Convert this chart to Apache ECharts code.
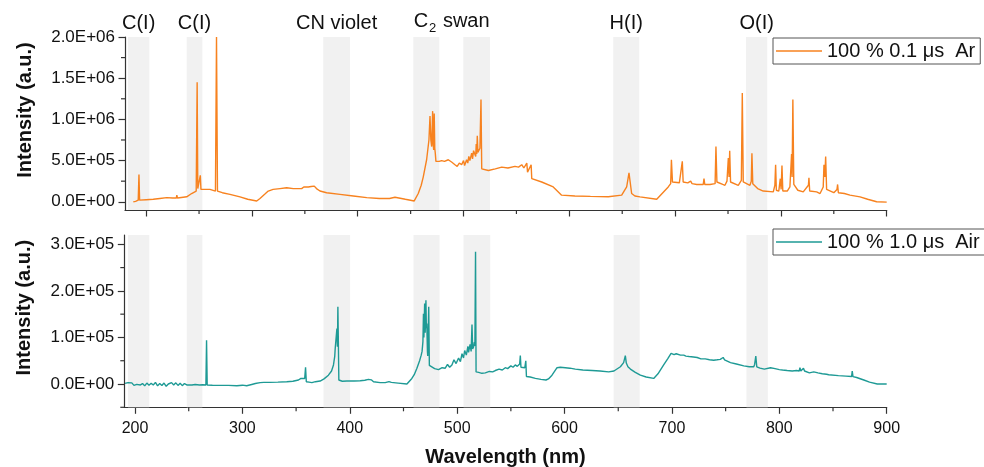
<!DOCTYPE html>
<html><head><meta charset="utf-8">
<script src="https://cdn.jsdelivr.net/npm/echarts@6/dist/echarts.min.js"></script>
<style>html,body{margin:0;padding:0;background:#fff}#c{width:984px;height:467px}</style>
</head><body><div id="c"></div><script>
// ---- data ----
const topWavelength = [187.9,190,192.5,193.2,193.8,200,206.7,213,219.4,225,228.5,229,229.6,235,238.3,243,247.3,248.2,248.8,250.5,251.2,251.8,255,260.3,265.5,266.5,267.4,272,279.2,288.7,296,304.5,307.6,312,315.4,320,326.5,332.8,339.1,347,349,350.5,353.3,356,358.9,361,364.3,370.6,383.2,395.8,408.5,420.4,430,435.2,437,445,453.4,457.2,460,461.9,465.1,467.3,468.3,469.1,469.9,470.4,470.8,471.3,471.8,472.3,472.8,473.3,473.9,474.9,477,479.3,482,485.6,489,491.9,494,496,498.2,500,501,502.9,504,505,506,507.7,508.5,509.5,510.8,511.5,512,512.5,513,513.6,514.6,515.5,516.5,517.2,517.8,523.5,530,536.1,542,548.6,552,555,557,559.8,560.5,562,563.9,564.5,573.9,584.8,592.7,605.3,620,636.8,649.5,654.2,656.4,658.9,662,666.8,682.6,693.5,695.8,696.5,697.5,704,706.8,707.6,712,714.7,716,720.4,726.6,727.3,728,733,737.8,738.6,739.5,745,747.1,749,750.3,751,751.6,752.4,759.7,762.6,763.5,764.4,770.7,772,772.6,773.4,778,783.3,792.8,794.3,795,795.7,798,799.4,800.2,801,801.8,806,808.5,810.1,810.6,811.3,812.2,816,821.1,826,826.5,827.2,833.8,834.5,837,840,840.7,841.5,842.3,843.2,850,853,853.6,854.3,860,865.3,866,866.8,874.8,882,890.5,900];
const topIntensity = [0,5e3,2e4,3.3e5,2e4,2.5e4,3e4,4e4,5e4,4.5e4,4.5e4,8e4,4.5e4,5.5e4,6e4,1e5,1.3e5,1.45e6,1.6e5,1.5e5,3.2e5,1.5e5,1.5e5,1.5e5,1.3e5,2.0e6,1.3e5,1.1e5,9e4,6e4,3e4,1e4,4e4,9e4,1.3e5,1.5e5,1.6e5,1.7e5,1.6e5,1.6e5,1.8e5,1.9e5,1.8e5,1.85e5,1.9e5,1.6e5,1.3e5,1.1e5,9e4,7e4,5e4,4e4,4e4,5.5e4,4.5e4,3e4,1e4,1e5,2e5,3e5,5.1e5,7.5e5,1.04e6,7.5e5,6.7e5,9e5,1.1e6,7e5,6.3e5,1.07e6,6.5e5,5.9e5,4.9e5,4.7e5,4.9e5,5e5,4.9e5,5.1e5,4.8e5,4.5e5,4.3e5,4.7e5,4.5e5,5e5,4.4e5,5.1e5,4.7e5,5.5e5,5e5,5.9e5,5.2e5,6.2e5,6.3e5,5.5e5,7e5,5.8e5,8e5,6e5,6.1e5,6.5e5,1.24e6,4e5,3.8e5,3.8e5,4e5,4.2e5,4.1e5,4.3e5,4.2e5,4.5e5,4.1e5,4.7e5,3.6e5,3.4e5,4.5e5,2.8e5,2.4e5,1.8e5,8e4,7e4,6.5e4,6e4,8e4,1.8e5,3.5e5,1e5,7e4,6e4,3e4,1.8e5,2.2e5,5.1e5,2.4e5,2.3e5,4.9e5,2.4e5,2.3e5,2.5e5,2.2e5,2.1e5,2.1e5,2.8e5,2.1e5,2.1e5,2.2e5,6.7e5,2.4e5,2.1e5,2e5,2.5e5,5.3e5,3e5,6.2e5,2.4e5,2e5,2.6e5,1.32e6,2.4e5,2e5,2.5e5,5.9e5,2.2e5,1.6e5,1.3e5,1.2e5,2e5,4.5e5,1.4e5,1.3e5,2.8e5,1.5e5,4.4e5,1.3e5,1.3e5,1.8e5,5.8e5,3e5,1.24e6,2.1e5,1.4e5,1.2e5,2e5,2.9e5,1.3e5,1.2e5,1e5,1e5,1.8e5,4.5e5,3e5,5.5e5,1.5e5,1.1e5,1.5e5,2.1e5,1.1e5,1e5,8e4,1e5,8e4,6e4,3e4,0,-5e3];
const bottomWavelength = [190.7,192,193.5,195,197,199,201.6,203,205,207,209,211,213,215,217,219,221,223,225,227,229,231,232.6,234,236,238,240,242,244,246,248.2,250,253,256,260,263,266,266.6,267.2,272,279.2,287,294.8,300,304,308.7,312,316.5,320,325.8,333,341.3,347,352.2,354.5,356.2,358,358.8,359.5,362,364.7,368,372.4,376,380.1,383,384.8,386,386.4,387.5,388,388.5,388.9,389.4,389.8,393,397.3,404,409.7,414,417.4,420,422.1,428.3,433,436.5,437.6,438.7,445,453.2,457.8,460,462.5,465,466.5,467.3,468.1,468.6,469,469.7,470.2,470.9,471.3,471.7,472.3,472.6,473.5,474.1,475.9,479,482.6,486,488.9,491,493,495.1,497,499,501.3,503,504.5,505.9,507,508.5,510,510.6,512,513,513.8,514.4,515.3,516,516.5,517.1,517.6,520,523,526.2,530,533,535.5,539,542,544.8,547,550,552,554.1,556,558.2,558.8,559.4,561,563,563.9,564.5,568,572.8,578,582.7,585,588.3,593,596,600.7,605,610,617,625.6,633,641.1,646,652,655,656.6,657.5,659,661.3,665.9,670.6,676,683,687,692.3,696,699.2,702,704,707.9,711,713,716,720,723.5,727,731,735,738.9,742,745,747.7,749,754.5,760,766.9,772,776.2,777,778.1,779,782,786,791.8,796,800,803,807.3,812,816,818.5,819.2,820,821.3,822.5,823.5,828,832.1,836,840,844,845,846,847.7,855,862,867.3,867.9,868.6,872,878.7,884,891.2,900];
const bottomIntensity = [1.4e3,-2e3,3e3,-1e3,2.5e3,-3e3,-700,3e3,-2e3,1e3,-4e3,2e3,-2.5e3,1.5e3,-2e3,3.5e3,-4e3,1e3,-3e3,2e3,-5e3,0,-4e3,3e3,-2e3,2.5e3,-3e3,1.5e3,-3.5e3,1e3,-2e3,0,-2e3,-1e3,-2e3,-1.5e3,-2e3,9.4e4,-2e3,-2.5e3,-3e3,-3e3,-3.6e3,-2.5e3,-3.8e3,-1e3,1e3,2.9e3,3.5e3,3.6e3,4e3,5e3,6e3,8.6e3,1.2e4,1.36e4,1.2e4,3.57e4,5e3,4e3,2.9e3,5e3,6.4e3,1.1e4,1.9e4,2.8e4,4.1e4,6e4,7.6e4,8e4,1.19e5,8e4,1.66e5,8e4,8.6e3,6e3,6.4e3,6.5e3,7e3,8e3,1e4,9e3,5e3,3e3,3e3,5e3,6e3,3.5e3,2e3,0,1.2e4,2e4,3.4e4,5e4,6.2e4,7e4,9.1e4,1.51e5,1e5,1.73e5,1.1e5,1.8e5,1.2e5,1.3e5,7e4,6e4,1.66e5,4e4,3.7e4,3.3e4,3.1e4,3.5e4,3.4e4,4.2e4,3.6e4,4.1e4,5.2e4,4.4e4,5.6e4,4.8e4,6.5e4,5.6e4,7.2e4,6.2e4,8.1e4,6.8e4,8.5e4,7e4,1.28e5,7.5e4,8e4,9e4,8.2e4,2.84e5,2.6e4,2.5e4,2.3e4,2.4e4,2.7e4,2.6e4,2.9e4,3.2e4,3e4,3.5e4,3.3e4,3.9e4,3.6e4,4.1e4,3.8e4,4.3e4,6.1e4,3.6e4,3.9e4,3.5e4,5e4,1.6e4,1.5e4,1.2e4,1e4,8.6e3,1.1e4,1.9e4,3.5e4,3.6e4,3.5e4,3.4e4,3.2e4,3e4,2.9e4,2.8e4,2.6e4,2.8e4,3.7e4,4.6e4,6.1e4,4.5e4,3.7e4,3.2e4,2.5e4,1.9e4,1.5e4,1.2e4,2.2e4,4.1e4,5.4e4,6.6e4,6.3e4,6.5e4,6.2e4,6.2e4,6e4,5.9e4,5.8e4,5.7e4,5.4e4,5.4e4,5.2e4,5.1e4,5.2e4,5.3e4,5.7e4,5.2e4,4.6e4,4.3e4,3.9e4,3.7e4,3.7e4,4.2e4,6e4,3.7e4,3.4e4,3.2e4,3.5e4,3.3e4,3.1e4,3e4,2.9e4,2.8e4,2.9e4,2.8e4,3.5e4,2.8e4,3e4,3.4e4,2.8e4,2.4e4,2.6e4,2.4e4,2.2e4,2.1e4,2.5e4,2e4,1.9e4,1.8e4,1.7e4,1.6e4,2.8e4,1.6e4,1.4e4,8.6e3,4e3,0,0];
const seriesNames = ['100 % 0.1 \u03bcs  Ar', '100 % 1.0 \u03bcs  Air'];
const xTickLabels = [200,300,400,500,600,700,800,900];
const xMinorTicks = [250,350,450,550,650,750,850];
const topXRange = [180, 900];
const bottomXRange = [190, 900];
const topYRange = [-1e5, 2e6];
const bottomYRange = [-5e4, 3.2e5];
const topYTicks = [0,5e5,1e6,1.5e6,2e6];
const topYMinor = [2.5e5,7.5e5,1.25e6,1.75e6];
const bottomYTicks = [0,1e5,2e5,3e5];
const bottomYMinor = [-5e4,5e4,1.5e5,2.5e5];
const bandLabels = ['C(I)','C(I)','CN violet','','','H(I)','O(I)'];
const topBands = [[182.8,203],[238.3,253.1],[367.4,392.7],[452.5,477.1],[499.8,525],[641.5,666.1],[767,787.1]];
const bottomBands = [[193.4,213.3],[248.2,262.7],[375.5,400.3],[459.3,483.6],[505.9,530.8],[645.7,670],[769.4,789.3]];
const swanRange = [452.5,525];

const ORANGE = '#F7821F', TEAL = '#1E9A95', BAND = '#F1F1F1';
const FONT = 'Arial, "Liberation Sans", sans-serif';
const axisCol = '#333';
const MINOR_LEN = 4;

function zip(a,b){ return a.map((v,i)=>[v,b[i]]); }
function sci(v){
  if (v === 0) return '0.0E+00';
  const e = Math.floor(Math.log10(Math.abs(v)) + 1e-9);
  const m = v / Math.pow(10, e);
  return m.toFixed(1) + 'E' + (e < 0 ? '-' : '+') + String(Math.abs(e)).padStart(2,'0');
}
function xAxisOpt(grid, range, showLabel, extra){
  return Object.assign({
    type:'value', gridIndex:grid, min:range[0], max:range[1], position:'bottom',
    axisLine:{show:true, onZero:false, lineStyle:{color:axisCol, width:1.2}},
    axisTick:{show:true, inside:false, length:6.5, customValues:xTickLabels, lineStyle:{color:axisCol, width:1.2}},
    axisLabel:{show:showLabel, customValues:xTickLabels, fontSize:16, fontFamily:FONT, color:'#111', margin:13},
    splitLine:{show:false}
  }, extra||{});
}
function yAxisOpt(grid, range, ticks){
  return {type:'value', gridIndex:grid, min:range[0], max:range[1], position:'left',
    axisLine:{show:true, onZero:false, lineStyle:{color:axisCol, width:1.2}},
    axisTick:{show:true, inside:false, length:6.5, customValues:ticks, lineStyle:{color:axisCol, width:1.2}},
    axisLabel:{show:true, customValues:ticks, formatter:sci, fontSize:17, fontFamily:FONT, color:'#111', margin:10},
    splitLine:{show:false},
    name:'Intensity (a.u.)', nameLocation:'middle', nameRotate:90, nameGap:90,
    nameTextStyle:{fontSize:20, fontWeight:'bold', fontFamily:FONT, color:'#111', padding:[0,0,0,27]}};
}
// minor ticks drawn by a custom series through the axis scales
function minorTicks(axisIdx, xVals, yVals, xRange, yRange){
  const data = xVals.map(v=>[v, yRange[0], 0]).concat(yVals.map(v=>[xRange[0], v, 1]));
  return {type:'custom', coordinateSystem:'cartesian2d', xAxisIndex:axisIdx, yAxisIndex:axisIdx,
    silent:true, clip:false, z:6, data:data,
    renderItem:function(params, api){
      const p = api.coord([api.value(0), api.value(1)]);
      const vertical = api.value(2) === 0;
      return {type:'line', shape: vertical ? {x1:p[0], y1:p[1], x2:p[0], y2:p[1]+MINOR_LEN}
                                          : {x1:p[0], y1:p[1], x2:p[0]-MINOR_LEN, y2:p[1]},
        style:{stroke:axisCol, lineWidth:1.2}};
    }};
}
function bandSeries(axisIdx, bands, withLabels){
  const areas = bands.map((b,i)=>[
    {xAxis:b[0], name: withLabels ? bandLabels[i] : '', itemStyle:{color:BAND}},
    {xAxis:b[1]}
  ]);
  if (withLabels) {
    areas.push([{xAxis:swanRange[0], name:'swan', itemStyle:{color:'rgba(0,0,0,0)'},
      label:{formatter:'{n|C}{s|2}{n| swan}'}}, {xAxis:swanRange[1]}]);
  }
  return {type:'line', xAxisIndex:axisIdx, yAxisIndex:axisIdx, data:[], z:1, silent:true, symbol:'none',
    markArea:{silent:true, data:areas,
      label:{show:withLabels, position:'top', distance:2, fontSize:20, lineHeight:24, fontFamily:FONT, color:'#111',
        rich:{n:{fontSize:20, fontFamily:FONT, color:'#111', lineHeight:24, verticalAlign:'top'},
              s:{fontSize:13, fontFamily:FONT, color:'#111', lineHeight:13, padding:[11,1,0,1], verticalAlign:'top'}}}}};
}
const legendBase = {orient:'horizontal', itemWidth:46, itemHeight:1.6, itemGap:0, icon:'rect',
  padding:[3,5,3,3], borderColor:'#555', borderWidth:1, borderRadius:0, backgroundColor:'#fff',
  textStyle:{fontSize:20, fontFamily:FONT, color:'#111'}};

const chart = echarts.init(document.getElementById('c'), null, {renderer:'canvas'});
chart.setOption({
  animation:false,
  backgroundColor:'#fff',
  grid:[
    {left:125, top:37, right:97.3, height:173, outerBoundsMode:'none', containLabel:false},
    {left:124.3, top:235, right:97.3, height:172.3, outerBoundsMode:'none', containLabel:false}
  ],
  legend:[
    Object.assign({}, legendBase, {left:773, top:38, data:[seriesNames[0]]}),
    Object.assign({}, legendBase, {left:773, top:229, data:[seriesNames[1]]})
  ],
  xAxis:[
    xAxisOpt(0, topXRange, false),
    xAxisOpt(1, bottomXRange, true, {name:'Wavelength (nm)', nameLocation:'middle', nameGap:40,
      nameTextStyle:{fontSize:20, fontWeight:'bold', fontFamily:FONT, color:'#111'}})
  ],
  yAxis:[
    yAxisOpt(0, topYRange, topYTicks),
    yAxisOpt(1, bottomYRange, bottomYTicks)
  ],
  series:[
    bandSeries(0, topBands, true),
    bandSeries(1, bottomBands, false),
    minorTicks(0, xMinorTicks, topYMinor, topXRange, topYRange),
    minorTicks(1, xMinorTicks, bottomYMinor, bottomXRange, bottomYRange),
    {name:seriesNames[0], type:'line', xAxisIndex:0, yAxisIndex:0, z:3,
     data:zip(topWavelength, topIntensity), symbol:'none', showSymbol:false,
     lineStyle:{color:ORANGE, width:1.4}, itemStyle:{color:ORANGE}, clip:true},
    {name:seriesNames[1], type:'line', xAxisIndex:1, yAxisIndex:1, z:3,
     data:zip(bottomWavelength, bottomIntensity), symbol:'none', showSymbol:false,
     lineStyle:{color:TEAL, width:1.4}, itemStyle:{color:TEAL}, clip:true}
  ]
});
</script></body></html>
